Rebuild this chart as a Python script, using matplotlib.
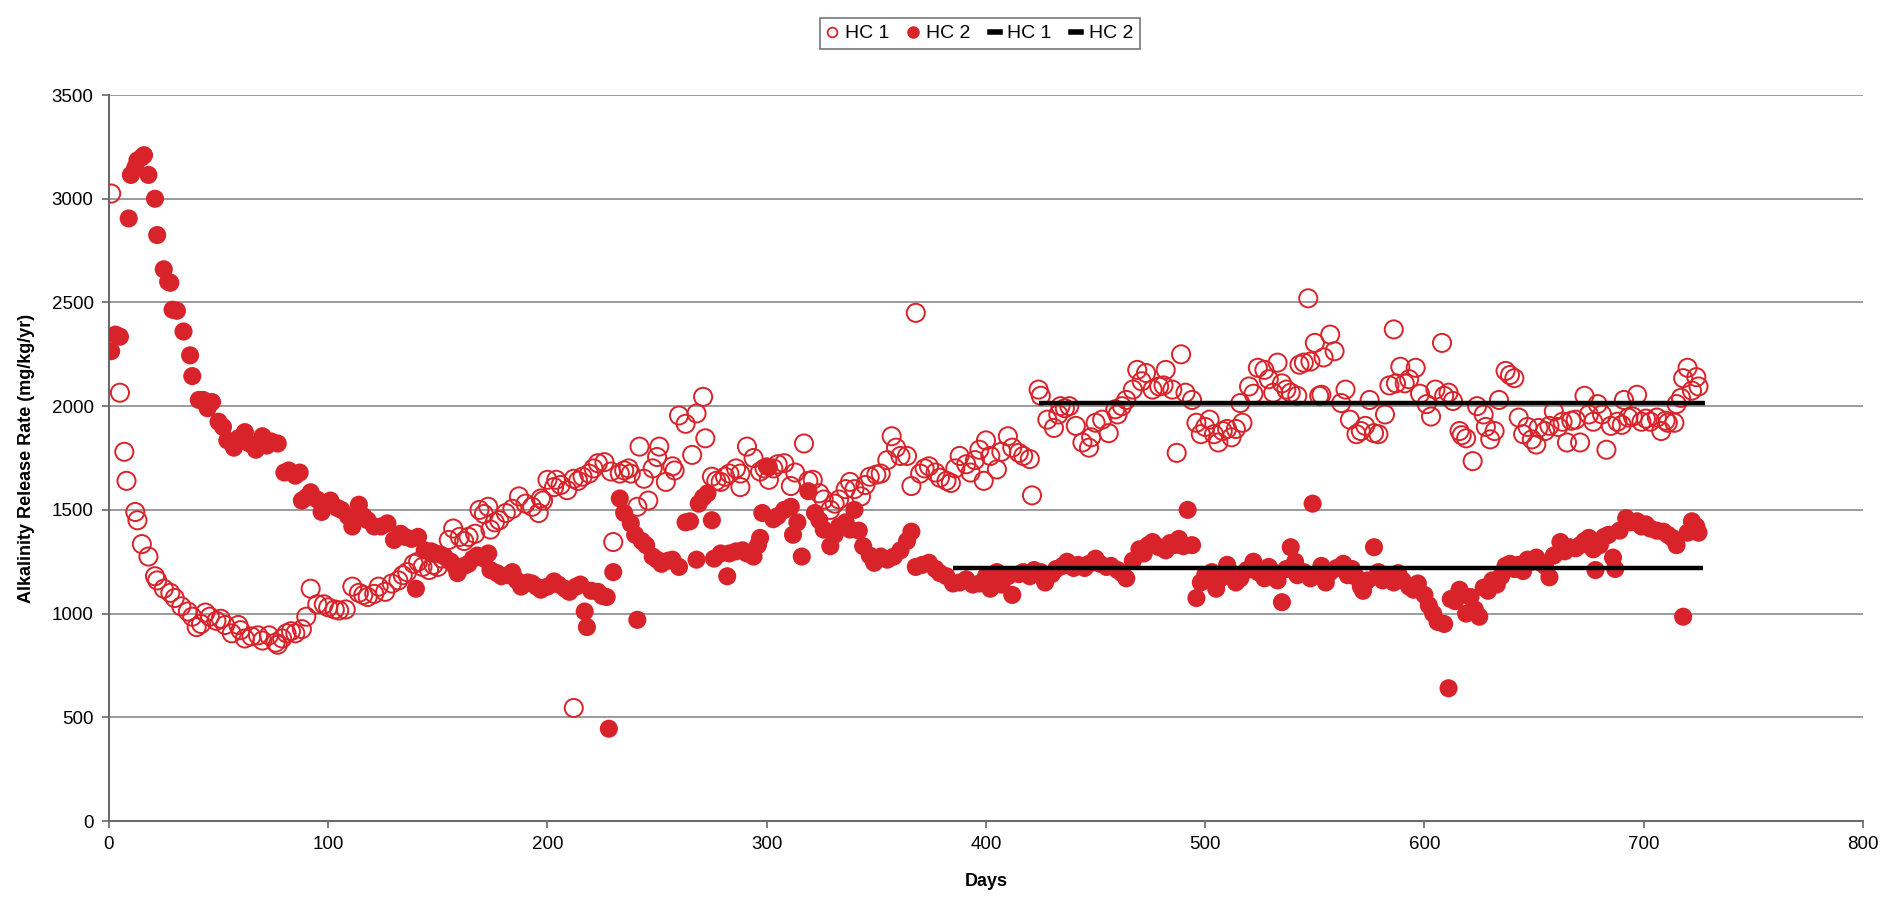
import matplotlib
matplotlib.use('Agg')
import matplotlib.pyplot as plt
from matplotlib.lines import Line2D

plt.rcParams['font.family'] = ['Liberation Sans', 'DejaVu Sans']

# HC 1 (open circles): day, release rate
hc1_days = [1, 5, 7, 8, 12, 13, 15, 18, 21, 22, 25, 28, 30, 33, 36, 38, 40, 42, 44, 46,
            49, 51, 53, 56, 59, 60, 62, 65, 68, 70, 73, 76, 77, 79, 81, 83, 85, 88, 90, 92,
            95, 98, 100,
            103, 105, 108, 111, 114, 116, 118, 121, 123, 126, 129, 132, 134, 136, 139, 141, 143, 146, 148, 150,
            152, 155, 157, 160, 162, 164, 167, 169, 171, 173, 174, 176, 178, 181, 184, 187, 190, 193, 196, 197,
            198, 200,
            203, 204, 206, 209, 212, 212, 214, 216, 219, 221, 223, 226, 229, 230, 233, 235, 237, 238, 241, 242,
            244, 246, 248, 250, 251, 254, 257, 258, 260, 263, 266, 268, 271, 272, 275, 277, 279, 281, 283, 286,
            288, 288, 291, 294, 297, 299,
            301, 303, 305, 308, 311, 313, 317, 319, 321, 324, 326, 329, 331, 333, 336, 338, 340, 343, 345, 347,
            350, 352, 355, 357, 359, 361, 364, 366, 368, 370, 372, 374, 377, 379, 382, 384, 386, 388, 391, 393,
            395, 397, 399, 400,
            402, 405, 407, 410, 412, 415, 417, 420, 421, 424, 425, 428, 431, 433, 434, 436, 438, 441, 444, 447,
            448, 450, 453, 456, 459, 460, 462, 464, 467, 469, 471, 473, 476, 479, 481, 482, 485, 487, 489, 491,
            494, 496, 498, 500, 502, 504, 506, 508, 510, 512, 514, 516, 517, 520, 522, 524, 527, 529, 531, 533,
            535, 537, 539, 542, 543, 545, 547, 548, 550, 552,
            553, 554, 557, 559, 562, 564, 566, 569, 571, 573, 575, 577, 579, 582, 584, 586, 587, 589, 591, 593,
            596, 598, 601, 603, 605, 608, 609, 611, 613, 616, 617, 619, 622, 624, 627, 628, 630, 632, 634, 637,
            639, 641, 643, 645, 647, 649, 651, 652, 655, 657, 659, 661, 663, 665, 667, 669, 671, 673, 675, 677,
            679, 681, 683, 685, 688, 690, 691, 693, 695, 697, 699, 701, 703, 706, 708, 710, 711, 714, 715, 717,
            718, 720, 722, 724, 725]
hc1_rate = [3025, 2065, 1780, 1640, 1490, 1450, 1335, 1275, 1180, 1160, 1120, 1100, 1075, 1035, 1010, 985, 935, 950, 1005, 985,
            965, 975, 945, 905, 945, 920, 880, 890, 895, 870, 895, 860, 850, 880, 905, 915, 905, 925, 985, 1120,
            1045, 1045, 1030,
            1020, 1015, 1020, 1130, 1100, 1090, 1080, 1095, 1130, 1105, 1145, 1160, 1185, 1200, 1240, 1250, 1225, 1210, 1235, 1225,
            1265, 1355, 1410, 1370, 1350, 1370, 1385, 1500, 1480, 1515, 1405, 1440, 1450, 1485, 1505, 1565, 1530, 1515, 1485, 1555,
            1545, 1645,
            1610, 1645, 1620, 1595, 545, 1650, 1640, 1660, 1675, 1700, 1725, 1730, 1685, 1345, 1675, 1690, 1700, 1675, 1515, 1805,
            1650, 1545, 1700, 1755, 1805, 1635, 1710, 1690, 1955, 1915, 1765, 1965, 2045, 1845, 1660, 1640, 1635, 1660, 1675, 1700,
            1675, 1610, 1805, 1750, 1685, 1700,
            1645, 1700, 1720, 1725, 1615, 1680, 1820, 1640, 1645, 1580, 1550, 1500, 1530, 1550, 1600, 1635, 1600, 1565, 1620, 1660,
            1670, 1675, 1740, 1855, 1800, 1760, 1760, 1615, 2450, 1675, 1700, 1710, 1680, 1655, 1640, 1630, 1700, 1760, 1720, 1680,
            1740, 1790, 1640, 1835,
            1760, 1695, 1780, 1855, 1800, 1775, 1760, 1745, 1570, 2080, 2050, 1935, 1895, 1960, 2000, 1990, 2000, 1905, 1825, 1800,
            1850, 1920, 1935, 1870, 1985, 1960, 2000, 2030, 2080, 2175, 2120, 2160, 2080, 2095, 2100, 2175, 2080, 1775, 2250, 2065,
            2030, 1920, 1865, 1900, 1935, 1865, 1825, 1880, 1890, 1850, 1890, 2015, 1920, 2095, 2060, 2185, 2175, 2130, 2065, 2210,
            2110, 2080, 2065, 2050, 2200, 2210, 2520, 2215, 2305, 2050,
            2055, 2235, 2345, 2265, 2015, 2080, 1935, 1865, 1880, 1905, 2030, 1870, 1865, 1960, 2100, 2370, 2110, 2190, 2110, 2130,
            2185, 2060, 2010, 1950, 2080, 2305, 2050, 2065, 2025, 1880, 1860, 1845, 1735, 2000, 1960, 1900, 1840, 1880, 2030, 2170,
            2150, 2135, 1945, 1865, 1900, 1840, 1815, 1895, 1880, 1905, 1975, 1900, 1925, 1825, 1930, 1935, 1825, 2050, 1960, 1925,
            2010, 1960, 1790, 1905, 1925, 1910, 2030, 1945, 1950, 2055, 1925, 1940, 1925, 1945, 1880, 1930, 1920, 1920, 2010, 2040,
            2135, 2185, 2075, 2140, 2095]

# HC 2 (filled circles)
hc2_days = [1, 3, 5, 9, 10, 12, 13, 15, 16, 18, 21, 22, 25, 27, 28, 29, 31, 34, 37, 38,
            41, 43, 45, 47, 50, 52, 54, 57, 59, 62, 64, 67, 70, 72, 74, 77, 80, 82, 85, 87,
            88, 90, 92, 95, 97, 99,
            101, 104, 106, 109, 111, 114, 116, 118, 121, 124, 127, 130, 133, 135, 138, 140, 141, 144, 147, 149,
            151, 153, 156, 158, 159, 162, 164, 166, 168, 171, 173, 174, 177, 179, 182, 184, 186, 188, 191, 193,
            195, 197,
            200, 203, 205, 208, 210, 213, 215, 217, 218, 220, 223, 225, 227, 228, 230, 233, 235, 238, 240, 241,
            243, 245, 248, 250, 252, 255, 257, 260, 263, 265, 268, 269, 271, 273, 275, 276, 279, 282, 283, 286,
            289, 291, 294, 296, 297, 298, 300,
            301, 303, 305, 308, 311, 312, 314, 316, 319, 322, 324, 326, 329, 331, 333, 336, 338, 340, 342, 344,
            347, 349, 352, 355, 358, 361, 364, 366, 368, 371, 374, 377, 379, 382, 385, 388, 391, 394, 397, 400,
            402, 405, 407, 410, 412, 415, 417, 420, 422, 425, 427, 430, 432, 435, 437, 440, 442, 445, 447, 450,
            452, 455, 457, 460, 462, 464, 467, 470, 472, 474, 476, 479, 482, 484, 486, 488, 490, 492, 494, 496,
            498, 500, 503, 505, 507, 510, 512, 514, 516, 519, 522, 524, 527, 529, 531, 533, 535, 537, 539, 541,
            542, 545, 548, 549,
            551, 553, 555, 557, 560, 563, 565, 567, 569, 571, 572, 574, 577, 579, 581, 583, 586, 588, 590, 593,
            595, 597, 600, 602, 604, 606, 609, 611, 612, 614, 616, 619, 621, 623, 625, 627, 629, 631, 633, 635,
            637, 639, 641, 643, 645, 647, 649, 651, 653, 655, 657, 659, 662, 664, 666, 669, 671, 673, 675, 677,
            678, 680, 682, 684, 686, 687, 689, 692, 694, 697, 699, 701, 703, 706, 709, 711, 713, 715, 718, 720,
            722, 724, 725]
hc2_rate = [2265, 2345, 2335, 2905, 3115, 3150, 3185, 3200, 3210, 3115, 3000, 2825, 2660, 2600, 2595, 2465, 2460, 2360, 2245, 2145,
            2030, 2030, 1990, 2020, 1925, 1900, 1835, 1800, 1845, 1875, 1820, 1790, 1855, 1810, 1830, 1820, 1680, 1690, 1665, 1680,
            1545, 1560, 1585, 1550, 1490, 1525,
            1545, 1510, 1500, 1470, 1420, 1525, 1470, 1450, 1420, 1420, 1435, 1355, 1385, 1370, 1360, 1120, 1370, 1305, 1300, 1290,
            1285, 1275, 1250, 1225, 1195, 1230, 1240, 1265, 1280, 1265, 1290, 1210, 1195, 1180, 1185, 1200, 1160, 1130, 1150, 1145,
            1130, 1115,
            1130, 1155, 1140, 1120, 1105, 1130, 1140, 1010, 935, 1110, 1105, 1085, 1080, 445, 1200, 1555, 1485, 1435, 1380, 970,
            1350, 1330, 1275, 1260, 1240, 1255, 1260, 1225, 1440, 1445, 1260, 1530, 1560, 1580, 1450, 1265, 1290, 1180, 1290, 1300,
            1305, 1290, 1275, 1330, 1365, 1485, 1710,
            1705, 1455, 1470, 1500, 1515, 1380, 1440, 1275, 1590, 1485, 1450, 1405, 1325, 1380, 1420, 1440, 1405, 1500, 1400, 1325,
            1280, 1245, 1275, 1260, 1275, 1305, 1350, 1395, 1225, 1235, 1245, 1215, 1195, 1180, 1145, 1150, 1165, 1140, 1145, 1180,
            1120, 1200, 1140, 1180, 1090, 1190, 1200, 1180, 1210, 1200, 1150, 1190, 1215, 1230, 1250, 1220, 1235, 1220, 1240, 1265,
            1240, 1225, 1230, 1210, 1195, 1170, 1255, 1310, 1290, 1330, 1345, 1320, 1305, 1340, 1330, 1360, 1325, 1500, 1330, 1075,
            1150, 1185, 1200, 1120, 1170, 1235, 1195, 1150, 1170, 1210, 1250, 1200, 1170, 1225, 1200, 1160, 1055, 1215, 1320, 1250,
            1185, 1200, 1170, 1530,
            1190, 1230, 1150, 1200, 1220, 1240, 1185, 1215, 1175, 1130, 1110, 1160, 1320, 1200, 1160, 1180, 1150, 1195, 1160, 1130,
            1115, 1145, 1090, 1040, 1000, 960, 950, 640, 1070, 1060, 1115, 1000, 1080, 1020, 985, 1125, 1110, 1160, 1140, 1180,
            1230, 1240, 1215, 1235, 1205, 1260, 1250, 1270, 1245, 1230, 1175, 1280, 1345, 1300, 1320, 1315, 1330, 1350, 1365, 1310,
            1210, 1330, 1370, 1380, 1270, 1215, 1400, 1460, 1440, 1445, 1420, 1430, 1410, 1400, 1395, 1380, 1365, 1330, 985, 1390,
            1445, 1420, 1390]

# steady-state averages (horizontal lines)
hc1_avg_days = [424, 728]
hc1_avg = [2015, 2015]
hc2_avg_days = [385, 727]
hc2_avg = [1218, 1218]

red = '#D9232A'

fig = plt.figure(figsize=(18.85, 9.06), dpi=100)
ax = fig.add_axes([0.0578, 0.0938, 0.9305, 0.8013])

ax.scatter(hc1_days, hc1_rate, s=170, facecolors='none', edgecolors=red, linewidths=1.4, zorder=3)
ax.scatter(hc2_days, hc2_rate, s=170, color=red, edgecolors='none', zorder=4)
ax.plot(hc1_avg_days, hc1_avg, color='black', linewidth=3.2, zorder=5, solid_capstyle='butt')
ax.plot(hc2_avg_days, hc2_avg, color='black', linewidth=3.2, zorder=5, solid_capstyle='butt')

ax.set_xlim(0, 800)
ax.set_ylim(0, 3500)
ax.set_xticks(range(0, 801, 100))
ax.set_yticks(range(0, 3501, 500))
ax.yaxis.grid(True, color='#8a8a8a', linewidth=1.2)
ax.set_axisbelow(True)
for s in ['top', 'right']:
    ax.spines[s].set_visible(False)
for s in ['left', 'bottom']:
    ax.spines[s].set_color('#6a6a6a')
    ax.spines[s].set_linewidth(1.5)
ax.tick_params(axis='both', labelsize=13.5, length=5, color='#6a6a6a', width=1.2, pad=6)

ax.set_xlabel('Days', fontsize=13, fontweight='bold', labelpad=14)
ax.set_ylabel('Alkalinity Release Rate (mg/kg/yr)', fontsize=13, fontweight='bold', labelpad=12)

handles = [
    Line2D([], [], linestyle='none', marker='o', markersize=7, markerfacecolor='none',
           markeredgecolor=red, markeredgewidth=1.3),
    Line2D([], [], linestyle='none', marker='o', markersize=8, markerfacecolor=red, markeredgecolor=red),
    Line2D([], [], color='black', linewidth=4),
    Line2D([], [], color='black', linewidth=4),
]
leg = fig.legend(handles, ['HC 1', 'HC 2', 'HC 1', 'HC 2'], loc='center', bbox_to_anchor=(0.52, 0.963),
                 ncol=4, fontsize=14, frameon=True, fancybox=False, edgecolor='#555555',
                 handlelength=0.5, handletextpad=0.4, columnspacing=1.0, borderpad=0.35)
leg.get_frame().set_linewidth(1.2)

fig.savefig('out.png', dpi=100, facecolor='white')
